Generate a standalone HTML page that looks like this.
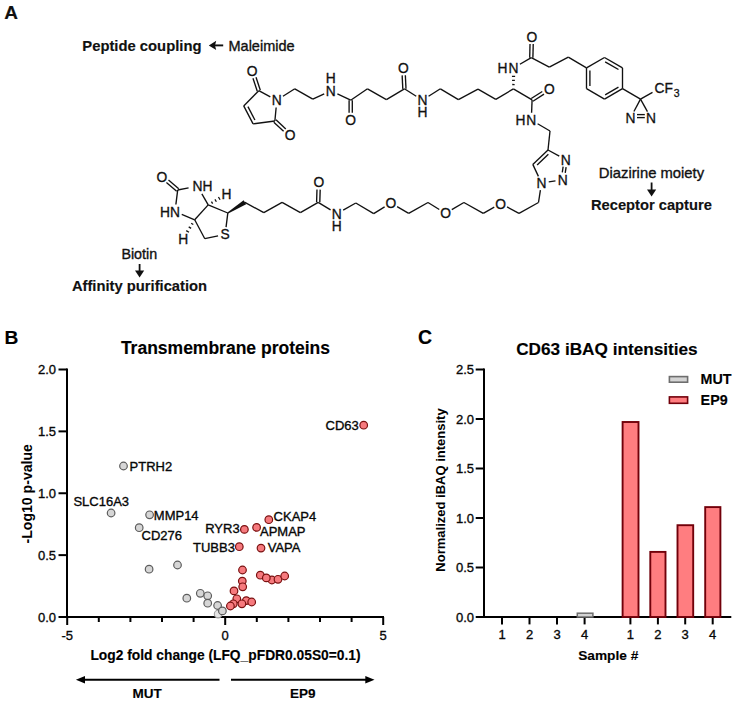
<!DOCTYPE html>
<html><head><meta charset="utf-8"><style>
html,body{margin:0;padding:0;background:#fff;}
svg{display:block;font-family:"Liberation Sans", sans-serif;fill:#111;}
</style></head><body>
<svg width="739" height="705" viewBox="0 0 739 705">
<rect width="739" height="705" fill="#fff"/>
<g stroke-linecap="butt">
<line x1="252.98" y1="78.23" x2="257.28" y2="91.20" stroke="#111" stroke-width="1.35"/>
<line x1="256.02" y1="77.23" x2="260.32" y2="90.20" stroke="#111" stroke-width="1.35"/>
<line x1="258.80" y1="90.70" x2="243.70" y2="105.90" stroke="#111" stroke-width="1.35"/>
<line x1="243.70" y1="105.90" x2="253.10" y2="123.90" stroke="#111" stroke-width="1.35"/>
<line x1="247.94" y1="106.67" x2="254.89" y2="119.99" stroke="#111" stroke-width="1.35"/>
<line x1="253.10" y1="123.90" x2="274.90" y2="121.00" stroke="#111" stroke-width="1.35"/>
<line x1="274.90" y1="121.00" x2="276.14" y2="107.47" stroke="#111" stroke-width="1.35"/>
<line x1="270.34" y1="96.79" x2="258.80" y2="90.70" stroke="#111" stroke-width="1.35"/>
<line x1="273.80" y1="122.17" x2="283.59" y2="131.36" stroke="#111" stroke-width="1.35"/>
<line x1="276.00" y1="119.83" x2="285.78" y2="129.03" stroke="#111" stroke-width="1.35"/>
<line x1="282.97" y1="96.29" x2="294.80" y2="88.80" stroke="#111" stroke-width="1.35"/>
<line x1="294.80" y1="88.80" x2="312.80" y2="99.20" stroke="#111" stroke-width="1.35"/>
<line x1="312.80" y1="99.20" x2="324.20" y2="93.82" stroke="#111" stroke-width="1.35"/>
<line x1="337.39" y1="93.84" x2="350.70" y2="100.20" stroke="#111" stroke-width="1.35"/>
<line x1="349.10" y1="100.20" x2="349.10" y2="112.70" stroke="#111" stroke-width="1.35"/>
<line x1="352.30" y1="100.20" x2="352.30" y2="112.70" stroke="#111" stroke-width="1.35"/>
<line x1="350.70" y1="100.20" x2="367.50" y2="88.80" stroke="#111" stroke-width="1.35"/>
<line x1="367.50" y1="88.80" x2="386.40" y2="99.60" stroke="#111" stroke-width="1.35"/>
<line x1="386.40" y1="99.60" x2="404.40" y2="88.80" stroke="#111" stroke-width="1.35"/>
<line x1="406.00" y1="88.72" x2="405.35" y2="75.21" stroke="#111" stroke-width="1.35"/>
<line x1="402.80" y1="88.88" x2="402.15" y2="75.37" stroke="#111" stroke-width="1.35"/>
<line x1="404.40" y1="88.80" x2="416.23" y2="96.29" stroke="#111" stroke-width="1.35"/>
<line x1="428.57" y1="96.29" x2="440.40" y2="88.80" stroke="#111" stroke-width="1.35"/>
<line x1="440.40" y1="88.80" x2="458.40" y2="99.60" stroke="#111" stroke-width="1.35"/>
<line x1="458.40" y1="99.60" x2="478.00" y2="89.10" stroke="#111" stroke-width="1.35"/>
<line x1="478.00" y1="89.10" x2="495.80" y2="99.30" stroke="#111" stroke-width="1.35"/>
<line x1="495.80" y1="99.30" x2="513.40" y2="88.90" stroke="#111" stroke-width="1.35"/>
<line x1="512.24" y1="84.50" x2="514.64" y2="84.53" stroke="#111" stroke-width="1.3"/>
<line x1="512.08" y1="80.39" x2="514.88" y2="80.42" stroke="#111" stroke-width="1.3"/>
<line x1="511.92" y1="76.28" x2="515.12" y2="76.31" stroke="#111" stroke-width="1.3"/>
<line x1="513.40" y1="88.90" x2="532.10" y2="99.90" stroke="#111" stroke-width="1.35"/>
<line x1="532.96" y1="101.25" x2="544.01" y2="94.18" stroke="#111" stroke-width="1.35"/>
<line x1="531.24" y1="98.55" x2="542.29" y2="91.49" stroke="#111" stroke-width="1.35"/>
<line x1="532.10" y1="99.90" x2="531.59" y2="112.81" stroke="#111" stroke-width="1.35"/>
<line x1="537.61" y1="123.78" x2="550.00" y2="131.00" stroke="#111" stroke-width="1.35"/>
<line x1="550.00" y1="131.00" x2="548.00" y2="150.00" stroke="#111" stroke-width="1.35"/>
<line x1="548.00" y1="150.00" x2="532.80" y2="164.40" stroke="#111" stroke-width="1.35"/>
<line x1="548.36" y1="154.34" x2="537.11" y2="165.00" stroke="#111" stroke-width="1.35"/>
<line x1="548.00" y1="150.00" x2="559.28" y2="156.12" stroke="#111" stroke-width="1.35"/>
<line x1="563.14" y1="166.60" x2="562.29" y2="172.36" stroke="#111" stroke-width="1.35"/>
<line x1="566.11" y1="167.04" x2="565.26" y2="172.80" stroke="#111" stroke-width="1.35"/>
<line x1="555.48" y1="180.89" x2="548.72" y2="181.91" stroke="#111" stroke-width="1.35"/>
<line x1="538.41" y1="176.39" x2="532.80" y2="164.40" stroke="#111" stroke-width="1.35"/>
<line x1="540.39" y1="190.22" x2="538.50" y2="202.50" stroke="#111" stroke-width="1.35"/>
<line x1="538.50" y1="202.50" x2="519.00" y2="213.30" stroke="#111" stroke-width="1.35"/>
<line x1="519.00" y1="213.30" x2="507.04" y2="206.93" stroke="#111" stroke-width="1.35"/>
<line x1="494.25" y1="207.10" x2="483.30" y2="213.30" stroke="#111" stroke-width="1.35"/>
<line x1="483.30" y1="213.30" x2="463.90" y2="202.50" stroke="#111" stroke-width="1.35"/>
<line x1="463.90" y1="202.50" x2="451.80" y2="209.60" stroke="#111" stroke-width="1.35"/>
<line x1="439.29" y1="209.47" x2="428.00" y2="202.50" stroke="#111" stroke-width="1.35"/>
<line x1="428.00" y1="202.50" x2="408.70" y2="213.30" stroke="#111" stroke-width="1.35"/>
<line x1="408.70" y1="213.30" x2="397.13" y2="206.64" stroke="#111" stroke-width="1.35"/>
<line x1="384.60" y1="206.85" x2="373.70" y2="213.60" stroke="#111" stroke-width="1.35"/>
<line x1="373.70" y1="213.60" x2="355.80" y2="203.00" stroke="#111" stroke-width="1.35"/>
<line x1="355.80" y1="203.00" x2="343.18" y2="210.04" stroke="#111" stroke-width="1.35"/>
<line x1="330.56" y1="209.81" x2="318.20" y2="202.30" stroke="#111" stroke-width="1.35"/>
<line x1="319.80" y1="202.35" x2="320.18" y2="189.64" stroke="#111" stroke-width="1.35"/>
<line x1="316.60" y1="202.25" x2="316.98" y2="189.55" stroke="#111" stroke-width="1.35"/>
<line x1="318.20" y1="202.30" x2="300.40" y2="212.70" stroke="#111" stroke-width="1.35"/>
<line x1="300.40" y1="212.70" x2="282.10" y2="202.30" stroke="#111" stroke-width="1.35"/>
<line x1="282.10" y1="202.30" x2="263.80" y2="212.70" stroke="#111" stroke-width="1.35"/>
<line x1="263.80" y1="212.70" x2="244.90" y2="202.30" stroke="#111" stroke-width="1.35"/>
<polygon points="228.17,213.59 246.17,204.33 243.63,200.27 227.43,212.41" fill="#111"/>
<line x1="227.80" y1="213.00" x2="226.08" y2="227.05" stroke="#111" stroke-width="1.35"/>
<line x1="218.06" y1="235.84" x2="204.80" y2="238.70" stroke="#111" stroke-width="1.35"/>
<line x1="204.80" y1="238.70" x2="194.70" y2="219.80" stroke="#111" stroke-width="1.35"/>
<line x1="194.70" y1="219.80" x2="208.20" y2="204.90" stroke="#111" stroke-width="1.35"/>
<line x1="208.20" y1="204.90" x2="227.80" y2="213.00" stroke="#111" stroke-width="1.35"/>
<line x1="208.20" y1="204.90" x2="201.87" y2="193.81" stroke="#111" stroke-width="1.35"/>
<line x1="188.58" y1="187.79" x2="177.70" y2="190.00" stroke="#111" stroke-width="1.35"/>
<line x1="178.74" y1="188.78" x2="168.49" y2="180.03" stroke="#111" stroke-width="1.35"/>
<line x1="176.66" y1="191.22" x2="166.41" y2="182.46" stroke="#111" stroke-width="1.35"/>
<line x1="177.70" y1="190.00" x2="175.90" y2="204.46" stroke="#111" stroke-width="1.35"/>
<line x1="181.75" y1="214.48" x2="194.70" y2="219.80" stroke="#111" stroke-width="1.35"/>
<line x1="211.43" y1="201.60" x2="212.65" y2="203.66" stroke="#111" stroke-width="1.3"/>
<line x1="214.94" y1="199.30" x2="216.36" y2="201.71" stroke="#111" stroke-width="1.3"/>
<line x1="218.44" y1="197.00" x2="220.07" y2="199.76" stroke="#111" stroke-width="1.3"/>
<line x1="193.26" y1="224.48" x2="191.21" y2="223.23" stroke="#111" stroke-width="1.3"/>
<line x1="191.12" y1="228.38" x2="188.73" y2="226.92" stroke="#111" stroke-width="1.3"/>
<line x1="188.98" y1="232.28" x2="186.24" y2="230.62" stroke="#111" stroke-width="1.3"/>
<line x1="519.92" y1="64.26" x2="531.30" y2="57.70" stroke="#111" stroke-width="1.35"/>
<line x1="532.90" y1="57.74" x2="533.23" y2="44.04" stroke="#111" stroke-width="1.35"/>
<line x1="529.70" y1="57.66" x2="530.03" y2="43.96" stroke="#111" stroke-width="1.35"/>
<line x1="531.30" y1="57.70" x2="549.30" y2="67.10" stroke="#111" stroke-width="1.35"/>
<line x1="549.30" y1="67.10" x2="568.30" y2="57.20" stroke="#111" stroke-width="1.35"/>
<line x1="568.30" y1="57.20" x2="586.50" y2="67.90" stroke="#111" stroke-width="1.35"/>
<line x1="586.50" y1="88.70" x2="586.50" y2="67.90" stroke="#111" stroke-width="1.35"/>
<line x1="589.90" y1="86.00" x2="589.90" y2="70.60" stroke="#111" stroke-width="1.35"/>
<line x1="586.50" y1="67.90" x2="604.50" y2="57.50" stroke="#111" stroke-width="1.35"/>
<line x1="604.50" y1="57.50" x2="622.50" y2="67.90" stroke="#111" stroke-width="1.35"/>
<line x1="605.14" y1="61.80" x2="618.46" y2="69.49" stroke="#111" stroke-width="1.35"/>
<line x1="622.50" y1="67.90" x2="622.50" y2="88.70" stroke="#111" stroke-width="1.35"/>
<line x1="622.50" y1="88.70" x2="604.50" y2="99.10" stroke="#111" stroke-width="1.35"/>
<line x1="618.46" y1="87.11" x2="605.14" y2="94.80" stroke="#111" stroke-width="1.35"/>
<line x1="604.50" y1="99.10" x2="586.50" y2="88.70" stroke="#111" stroke-width="1.35"/>
<line x1="622.50" y1="88.70" x2="640.50" y2="99.10" stroke="#111" stroke-width="1.35"/>
<line x1="640.50" y1="99.10" x2="633.91" y2="111.55" stroke="#111" stroke-width="1.35"/>
<line x1="640.50" y1="99.10" x2="647.45" y2="111.62" stroke="#111" stroke-width="1.35"/>
<line x1="640.50" y1="99.10" x2="652.50" y2="92.40" stroke="#111" stroke-width="1.35"/>
<line x1="637.00" y1="114.60" x2="644.80" y2="114.60" stroke="#111" stroke-width="1.35"/>
<line x1="637.00" y1="117.60" x2="644.80" y2="117.60" stroke="#111" stroke-width="1.35"/>
</g>
<g fill="#111">
<text x="252.20" y="75.83" font-size="13.8" font-weight="normal" text-anchor="middle" stroke="#111" stroke-width="0.3">O</text>
<text x="276.80" y="105.23" font-size="13.8" font-weight="normal" text-anchor="middle" stroke="#111" stroke-width="0.3">N</text>
<text x="290.00" y="140.23" font-size="13.8" font-weight="normal" text-anchor="middle" stroke="#111" stroke-width="0.3">O</text>
<text x="330.80" y="95.73" font-size="13.8" font-weight="normal" text-anchor="middle" stroke="#111" stroke-width="0.3">N</text>
<text x="350.70" y="125.03" font-size="13.8" font-weight="normal" text-anchor="middle" stroke="#111" stroke-width="0.3">O</text>
<text x="403.40" y="73.03" font-size="13.8" font-weight="normal" text-anchor="middle" stroke="#111" stroke-width="0.3">O</text>
<text x="422.40" y="105.23" font-size="13.8" font-weight="normal" text-anchor="middle" stroke="#111" stroke-width="0.3">N</text>
<text x="513.60" y="72.93" font-size="13.8" font-weight="normal" text-anchor="middle" stroke="#111" stroke-width="0.3">N</text>
<text x="549.30" y="93.93" font-size="13.8" font-weight="normal" text-anchor="middle" stroke="#111" stroke-width="0.3">O</text>
<text x="531.30" y="125.13" font-size="13.8" font-weight="normal" text-anchor="middle" stroke="#111" stroke-width="0.3">N</text>
<text x="565.70" y="164.63" font-size="13.8" font-weight="normal" text-anchor="middle" stroke="#111" stroke-width="0.3">N</text>
<text x="562.70" y="184.83" font-size="13.8" font-weight="normal" text-anchor="middle" stroke="#111" stroke-width="0.3">N</text>
<text x="541.50" y="188.03" font-size="13.8" font-weight="normal" text-anchor="middle" stroke="#111" stroke-width="0.3">N</text>
<text x="500.60" y="208.53" font-size="13.8" font-weight="normal" text-anchor="middle" stroke="#111" stroke-width="0.3">O</text>
<text x="445.50" y="218.33" font-size="13.8" font-weight="normal" text-anchor="middle" stroke="#111" stroke-width="0.3">O</text>
<text x="390.80" y="208.03" font-size="13.8" font-weight="normal" text-anchor="middle" stroke="#111" stroke-width="0.3">O</text>
<text x="336.80" y="218.63" font-size="13.8" font-weight="normal" text-anchor="middle" stroke="#111" stroke-width="0.3">N</text>
<text x="318.80" y="187.33" font-size="13.8" font-weight="normal" text-anchor="middle" stroke="#111" stroke-width="0.3">O</text>
<text x="225.20" y="239.33" font-size="13.8" font-weight="normal" text-anchor="middle" stroke="#111" stroke-width="0.3">S</text>
<text x="175.00" y="216.73" font-size="13.8" font-weight="normal" text-anchor="middle" stroke="#111" stroke-width="0.3">N</text>
<text x="161.90" y="181.53" font-size="13.8" font-weight="normal" text-anchor="middle" stroke="#111" stroke-width="0.3">O</text>
<text x="197.40" y="191.03" font-size="13.8" font-weight="normal" text-anchor="middle" stroke="#111" stroke-width="0.3">N</text>
<text x="226.50" y="199.13" font-size="13.8" font-weight="normal" text-anchor="middle" stroke="#111" stroke-width="0.3">H</text>
<text x="183.20" y="243.73" font-size="13.8" font-weight="normal" text-anchor="middle" stroke="#111" stroke-width="0.3">H</text>
<text x="531.80" y="41.73" font-size="13.8" font-weight="normal" text-anchor="middle" stroke="#111" stroke-width="0.3">O</text>
<text x="630.50" y="123.03" font-size="13.8" font-weight="normal" text-anchor="middle" stroke="#111" stroke-width="0.3">N</text>
<text x="651.00" y="123.03" font-size="13.8" font-weight="normal" text-anchor="middle" stroke="#111" stroke-width="0.3">N</text>
<text x="330.80" y="82.53" font-size="13.8" font-weight="normal" text-anchor="middle" stroke="#111" stroke-width="0.3">H</text>
<text x="422.40" y="117.03" font-size="13.8" font-weight="normal" text-anchor="middle" stroke="#111" stroke-width="0.3">H</text>
<text x="502.60" y="72.93" font-size="13.8" font-weight="normal" text-anchor="middle" stroke="#111" stroke-width="0.3">H</text>
<text x="520.40" y="125.13" font-size="13.8" font-weight="normal" text-anchor="middle" stroke="#111" stroke-width="0.3">H</text>
<text x="207.60" y="191.03" font-size="13.8" font-weight="normal" text-anchor="middle" stroke="#111" stroke-width="0.3">H</text>
<text x="165.00" y="216.73" font-size="13.8" font-weight="normal" text-anchor="middle" stroke="#111" stroke-width="0.3">H</text>
<text x="336.80" y="231.03" font-size="13.8" font-weight="normal" text-anchor="middle" stroke="#111" stroke-width="0.3">H</text>
<text x="654.5" y="93.43" font-size="13.8" stroke="#111" stroke-width="0.3">CF<tspan font-size="10.5" dx="0.8" dy="3.6">3</tspan></text>
<text x="4.30" y="19.40" font-size="19" font-weight="bold" text-anchor="start" stroke="#111" stroke-width="0.15">A</text>
<text x="82.30" y="51.00" font-size="14.8" font-weight="bold" text-anchor="start" stroke="#111" stroke-width="0.15">Peptide coupling</text>
<text x="228.50" y="51.00" font-size="14.5" font-weight="normal" text-anchor="start" stroke="#111" stroke-width="0.35">Maleimide</text>
<line x1="213.00" y1="45.40" x2="223.20" y2="45.40" stroke="#111" stroke-width="1.9"/>
<polygon points="208.8,45.4 216.2,40.7 215.0,45.4 216.2,50.1" fill="#111"/>
<text x="598.80" y="177.90" font-size="14.8" font-weight="normal" text-anchor="start" stroke="#111" stroke-width="0.35">Diazirine moiety</text>
<line x1="651.60" y1="182.50" x2="651.60" y2="191.00" stroke="#111" stroke-width="1.8"/>
<polygon points="651.6,196.5 647.0,189.5 656.2,189.5" fill="#111"/>
<text x="591.00" y="210.00" font-size="14.7" font-weight="bold" text-anchor="start" stroke="#111" stroke-width="0.15">Receptor capture</text>
<text x="121.40" y="259.20" font-size="14.3" font-weight="normal" text-anchor="start" stroke="#111" stroke-width="0.35">Biotin</text>
<line x1="139.60" y1="264.00" x2="139.60" y2="272.00" stroke="#111" stroke-width="1.8"/>
<polygon points="139.6,277.5 135.0,270.5 144.2,270.5" fill="#111"/>
<text x="71.90" y="290.90" font-size="14.75" font-weight="bold" text-anchor="start" stroke="#111" stroke-width="0.15">Affinity purification</text>
</g>
<g fill="#000">
<text x="4.60" y="343.90" font-size="19.2" font-weight="bold" text-anchor="start" stroke="#111" stroke-width="0.15">B</text>
<text x="120.90" y="354.00" font-size="17.5" font-weight="bold" text-anchor="start" stroke="#111" stroke-width="0.15">Transmembrane proteins</text>
<line x1="67.00" y1="368.60" x2="67.00" y2="618.00" stroke="#000" stroke-width="2"/>
<line x1="66.00" y1="617.00" x2="384.00" y2="617.00" stroke="#000" stroke-width="2"/>
<line x1="58.50" y1="617.00" x2="67.00" y2="617.00" stroke="#000" stroke-width="2"/>
<text x="56.00" y="621.70" font-size="13" font-weight="normal" text-anchor="end" stroke="#111" stroke-width="0.35">0.0</text>
<line x1="58.50" y1="555.12" x2="67.00" y2="555.12" stroke="#000" stroke-width="2"/>
<text x="56.00" y="559.83" font-size="13" font-weight="normal" text-anchor="end" stroke="#111" stroke-width="0.35">0.5</text>
<line x1="58.50" y1="493.25" x2="67.00" y2="493.25" stroke="#000" stroke-width="2"/>
<text x="56.00" y="497.95" font-size="13" font-weight="normal" text-anchor="end" stroke="#111" stroke-width="0.35">1.0</text>
<line x1="58.50" y1="431.38" x2="67.00" y2="431.38" stroke="#000" stroke-width="2"/>
<text x="56.00" y="436.07" font-size="13" font-weight="normal" text-anchor="end" stroke="#111" stroke-width="0.35">1.5</text>
<line x1="58.50" y1="369.50" x2="67.00" y2="369.50" stroke="#000" stroke-width="2"/>
<text x="56.00" y="374.20" font-size="13" font-weight="normal" text-anchor="end" stroke="#111" stroke-width="0.35">2.0</text>
<line x1="67.20" y1="617.00" x2="67.20" y2="625.00" stroke="#000" stroke-width="2"/>
<line x1="98.80" y1="617.00" x2="98.80" y2="622.00" stroke="#000" stroke-width="2"/>
<line x1="130.40" y1="617.00" x2="130.40" y2="622.00" stroke="#000" stroke-width="2"/>
<line x1="162.00" y1="617.00" x2="162.00" y2="622.00" stroke="#000" stroke-width="2"/>
<line x1="193.60" y1="617.00" x2="193.60" y2="622.00" stroke="#000" stroke-width="2"/>
<line x1="225.20" y1="617.00" x2="225.20" y2="625.00" stroke="#000" stroke-width="2"/>
<line x1="256.80" y1="617.00" x2="256.80" y2="622.00" stroke="#000" stroke-width="2"/>
<line x1="288.40" y1="617.00" x2="288.40" y2="622.00" stroke="#000" stroke-width="2"/>
<line x1="320.00" y1="617.00" x2="320.00" y2="622.00" stroke="#000" stroke-width="2"/>
<line x1="351.60" y1="617.00" x2="351.60" y2="622.00" stroke="#000" stroke-width="2"/>
<line x1="383.20" y1="617.00" x2="383.20" y2="625.00" stroke="#000" stroke-width="2"/>
<text x="67.20" y="639.50" font-size="13" font-weight="normal" text-anchor="middle" stroke="#111" stroke-width="0.35">-5</text>
<text x="225.20" y="639.50" font-size="13" font-weight="normal" text-anchor="middle" stroke="#111" stroke-width="0.35">0</text>
<text x="383.20" y="639.50" font-size="13" font-weight="normal" text-anchor="middle" stroke="#111" stroke-width="0.35">5</text>
<text x="225.50" y="659.50" font-size="13.8" font-weight="bold" text-anchor="middle" stroke="#111" stroke-width="0.15">Log2 fold change (LFQ_pFDR0.05S0=0.1)</text>
<line x1="84.00" y1="679.80" x2="219.50" y2="679.80" stroke="#000" stroke-width="1.9"/>
<polygon points="75.9,679.8 85.0,675.9 85.0,683.6" fill="#000"/>
<line x1="231.00" y1="679.80" x2="366.00" y2="679.80" stroke="#000" stroke-width="1.9"/>
<polygon points="374.5,679.8 365.3,675.9 365.3,683.6" fill="#000"/>
<text x="147.20" y="697.70" font-size="13.5" font-weight="bold" text-anchor="middle" stroke="#111" stroke-width="0.15">MUT</text>
<text x="302.80" y="697.70" font-size="13.5" font-weight="bold" text-anchor="middle" stroke="#111" stroke-width="0.15">EP9</text>
<text transform="translate(32.0,493.8) rotate(-90)" x="0" y="0" font-size="14.1" font-weight="bold" text-anchor="middle">-Log10 p-value</text>
<circle cx="218.1" cy="614.1" r="3.8" fill="#e4e4e4" stroke="#a0a0a0" stroke-width="1.1"/>
<circle cx="217.6" cy="605.5" r="3.8" fill="#d6d6d6" stroke="#5c5c5c" stroke-width="1.2"/>
<circle cx="222.4" cy="610.9" r="3.8" fill="#d6d6d6" stroke="#5c5c5c" stroke-width="1.2"/>
<circle cx="149.1" cy="569.2" r="3.8" fill="#d6d6d6" stroke="#5c5c5c" stroke-width="1.2"/>
<circle cx="123.5" cy="466" r="3.8" fill="#d6d6d6" stroke="#5c5c5c" stroke-width="1.2"/>
<circle cx="111.1" cy="513" r="3.8" fill="#d6d6d6" stroke="#5c5c5c" stroke-width="1.2"/>
<circle cx="149.6" cy="514.8" r="3.8" fill="#d6d6d6" stroke="#5c5c5c" stroke-width="1.2"/>
<circle cx="139.2" cy="527.7" r="3.8" fill="#d6d6d6" stroke="#5c5c5c" stroke-width="1.2"/>
<circle cx="177.5" cy="565" r="3.8" fill="#d6d6d6" stroke="#5c5c5c" stroke-width="1.2"/>
<circle cx="186.8" cy="598.2" r="3.8" fill="#d6d6d6" stroke="#5c5c5c" stroke-width="1.2"/>
<circle cx="200.3" cy="593.3" r="3.8" fill="#d6d6d6" stroke="#5c5c5c" stroke-width="1.2"/>
<circle cx="207.7" cy="595.8" r="3.8" fill="#d6d6d6" stroke="#5c5c5c" stroke-width="1.2"/>
<circle cx="207.7" cy="603.2" r="3.8" fill="#d6d6d6" stroke="#5c5c5c" stroke-width="1.2"/>
<circle cx="363.7" cy="425.2" r="3.8" fill="#f67a7e" stroke="#7a1010" stroke-width="1.2"/>
<circle cx="268.8" cy="519.7" r="3.8" fill="#f67a7e" stroke="#7a1010" stroke-width="1.2"/>
<circle cx="244.4" cy="529.4" r="3.8" fill="#f67a7e" stroke="#7a1010" stroke-width="1.2"/>
<circle cx="256.6" cy="527.4" r="3.8" fill="#f67a7e" stroke="#7a1010" stroke-width="1.2"/>
<circle cx="239.3" cy="546.7" r="3.8" fill="#f67a7e" stroke="#7a1010" stroke-width="1.2"/>
<circle cx="261.0" cy="548.1" r="3.8" fill="#f67a7e" stroke="#7a1010" stroke-width="1.2"/>
<circle cx="242.5" cy="570" r="3.8" fill="#f67a7e" stroke="#7a1010" stroke-width="1.2"/>
<circle cx="271.9" cy="580" r="3.8" fill="#f67a7e" stroke="#7a1010" stroke-width="1.2"/>
<circle cx="260.3" cy="575.2" r="3.8" fill="#f67a7e" stroke="#7a1010" stroke-width="1.2"/>
<circle cx="266.3" cy="577.9" r="3.8" fill="#f67a7e" stroke="#7a1010" stroke-width="1.2"/>
<circle cx="278" cy="579.3" r="3.8" fill="#f67a7e" stroke="#7a1010" stroke-width="1.2"/>
<circle cx="284.7" cy="576" r="3.8" fill="#f67a7e" stroke="#7a1010" stroke-width="1.2"/>
<circle cx="242.3" cy="581.1" r="3.8" fill="#f67a7e" stroke="#7a1010" stroke-width="1.2"/>
<circle cx="242.7" cy="586.8" r="3.8" fill="#f67a7e" stroke="#7a1010" stroke-width="1.2"/>
<circle cx="234" cy="590.9" r="3.8" fill="#f67a7e" stroke="#7a1010" stroke-width="1.2"/>
<circle cx="236.8" cy="598.8" r="3.8" fill="#f67a7e" stroke="#7a1010" stroke-width="1.2"/>
<circle cx="246.3" cy="600.6" r="3.8" fill="#f67a7e" stroke="#7a1010" stroke-width="1.2"/>
<circle cx="251.7" cy="602" r="3.8" fill="#f67a7e" stroke="#7a1010" stroke-width="1.2"/>
<circle cx="241.9" cy="603.8" r="3.8" fill="#f67a7e" stroke="#7a1010" stroke-width="1.2"/>
<circle cx="233.3" cy="603.8" r="3.8" fill="#f67a7e" stroke="#7a1010" stroke-width="1.2"/>
<circle cx="230.4" cy="606" r="3.8" fill="#f67a7e" stroke="#7a1010" stroke-width="1.2"/>
<text x="129.60" y="470.80" font-size="13.0" font-weight="normal" text-anchor="start" stroke="#111" stroke-width="0.35">PTRH2</text>
<text x="73.40" y="506.00" font-size="13.0" font-weight="normal" text-anchor="start" stroke="#111" stroke-width="0.35">SLC16A3</text>
<text x="153.80" y="519.50" font-size="13.0" font-weight="normal" text-anchor="start" stroke="#111" stroke-width="0.35">MMP14</text>
<text x="141.60" y="540.20" font-size="13.0" font-weight="normal" text-anchor="start" stroke="#111" stroke-width="0.35">CD276</text>
<text x="325.50" y="430.00" font-size="13.0" font-weight="normal" text-anchor="start" stroke="#111" stroke-width="0.35">CD63</text>
<text x="273.60" y="521.00" font-size="13.0" font-weight="normal" text-anchor="start" stroke="#111" stroke-width="0.35">CKAP4</text>
<text x="205.20" y="532.80" font-size="13.0" font-weight="normal" text-anchor="start" stroke="#111" stroke-width="0.35">RYR3</text>
<text x="260.00" y="536.40" font-size="13.0" font-weight="normal" text-anchor="start" stroke="#111" stroke-width="0.35">APMAP</text>
<text x="193.00" y="551.70" font-size="13.0" font-weight="normal" text-anchor="start" stroke="#111" stroke-width="0.35">TUBB3</text>
<text x="267.70" y="552.10" font-size="13.0" font-weight="normal" text-anchor="start" stroke="#111" stroke-width="0.35">VAPA</text>
<text x="418.00" y="343.90" font-size="19.5" font-weight="bold" text-anchor="start" stroke="#111" stroke-width="0.15">C</text>
<text x="516.20" y="355.20" font-size="17.2" font-weight="bold" text-anchor="start" stroke="#111" stroke-width="0.15">CD63 iBAQ intensities</text>
<line x1="484.00" y1="368.60" x2="484.00" y2="618.00" stroke="#000" stroke-width="2"/>
<line x1="483.00" y1="617.00" x2="731.30" y2="617.00" stroke="#000" stroke-width="2"/>
<line x1="475.70" y1="617.00" x2="484.00" y2="617.00" stroke="#000" stroke-width="2"/>
<text x="474.00" y="621.70" font-size="13" font-weight="normal" text-anchor="end" stroke="#111" stroke-width="0.35">0.0</text>
<line x1="475.70" y1="567.50" x2="484.00" y2="567.50" stroke="#000" stroke-width="2"/>
<text x="474.00" y="572.20" font-size="13" font-weight="normal" text-anchor="end" stroke="#111" stroke-width="0.35">0.5</text>
<line x1="475.70" y1="518.00" x2="484.00" y2="518.00" stroke="#000" stroke-width="2"/>
<text x="474.00" y="522.70" font-size="13" font-weight="normal" text-anchor="end" stroke="#111" stroke-width="0.35">1.0</text>
<line x1="475.70" y1="468.50" x2="484.00" y2="468.50" stroke="#000" stroke-width="2"/>
<text x="474.00" y="473.20" font-size="13" font-weight="normal" text-anchor="end" stroke="#111" stroke-width="0.35">1.5</text>
<line x1="475.70" y1="419.00" x2="484.00" y2="419.00" stroke="#000" stroke-width="2"/>
<text x="474.00" y="423.70" font-size="13" font-weight="normal" text-anchor="end" stroke="#111" stroke-width="0.35">2.0</text>
<line x1="475.70" y1="369.50" x2="484.00" y2="369.50" stroke="#000" stroke-width="2"/>
<text x="474.00" y="374.20" font-size="13" font-weight="normal" text-anchor="end" stroke="#111" stroke-width="0.35">2.5</text>
<line x1="502.00" y1="617.00" x2="502.00" y2="624.40" stroke="#000" stroke-width="2"/>
<text x="502.00" y="638.70" font-size="13" font-weight="normal" text-anchor="middle" stroke="#111" stroke-width="0.35">1</text>
<line x1="529.50" y1="617.00" x2="529.50" y2="624.40" stroke="#000" stroke-width="2"/>
<text x="529.50" y="638.70" font-size="13" font-weight="normal" text-anchor="middle" stroke="#111" stroke-width="0.35">2</text>
<line x1="557.00" y1="617.00" x2="557.00" y2="624.40" stroke="#000" stroke-width="2"/>
<text x="557.00" y="638.70" font-size="13" font-weight="normal" text-anchor="middle" stroke="#111" stroke-width="0.35">3</text>
<line x1="584.60" y1="617.00" x2="584.60" y2="624.40" stroke="#000" stroke-width="2"/>
<text x="584.60" y="638.70" font-size="13" font-weight="normal" text-anchor="middle" stroke="#111" stroke-width="0.35">4</text>
<line x1="630.40" y1="617.00" x2="630.40" y2="624.40" stroke="#000" stroke-width="2"/>
<text x="630.40" y="638.70" font-size="13" font-weight="normal" text-anchor="middle" stroke="#111" stroke-width="0.35">1</text>
<line x1="657.90" y1="617.00" x2="657.90" y2="624.40" stroke="#000" stroke-width="2"/>
<text x="657.90" y="638.70" font-size="13" font-weight="normal" text-anchor="middle" stroke="#111" stroke-width="0.35">2</text>
<line x1="685.20" y1="617.00" x2="685.20" y2="624.40" stroke="#000" stroke-width="2"/>
<text x="685.20" y="638.70" font-size="13" font-weight="normal" text-anchor="middle" stroke="#111" stroke-width="0.35">3</text>
<line x1="712.70" y1="617.00" x2="712.70" y2="624.40" stroke="#000" stroke-width="2"/>
<text x="712.70" y="638.70" font-size="13" font-weight="normal" text-anchor="middle" stroke="#111" stroke-width="0.35">4</text>
<text x="608.20" y="659.90" font-size="13.7" font-weight="bold" text-anchor="middle" stroke="#111" stroke-width="0.15">Sample #</text>
<text transform="translate(445.3,490) rotate(-90)" x="0" y="0" font-size="13" font-weight="bold" text-anchor="middle">Normalized iBAQ intensity</text>
<rect x="577.3" y="613.2" width="15.6" height="3.8" fill="#d4d4d4" stroke="#6e6e6e" stroke-width="1.5"/>
<rect x="622.6" y="422.0" width="15.9" height="195.0" fill="#ff7d80" stroke="#72000a" stroke-width="1.9"/>
<rect x="650.3" y="551.9" width="15.2" height="65.1" fill="#ff7d80" stroke="#72000a" stroke-width="1.9"/>
<rect x="677.5" y="525.2" width="15.7" height="91.8" fill="#ff7d80" stroke="#72000a" stroke-width="1.9"/>
<rect x="705.2" y="507.1" width="15.2" height="109.9" fill="#ff7d80" stroke="#72000a" stroke-width="1.9"/>
<rect x="669.4" y="376.6" width="18.2" height="5.6" fill="#d4d4d4" stroke="#6e6e6e" stroke-width="1.6"/>
<rect x="669.4" y="396.9" width="18.2" height="6.4" fill="#ff7d80" stroke="#72000a" stroke-width="1.6"/>
<text x="700.60" y="384.00" font-size="14.3" font-weight="bold" text-anchor="start" stroke="#111" stroke-width="0.15">MUT</text>
<text x="700.60" y="404.70" font-size="14.3" font-weight="bold" text-anchor="start" stroke="#111" stroke-width="0.15">EP9</text>
</g>
</svg>
</body></html>
